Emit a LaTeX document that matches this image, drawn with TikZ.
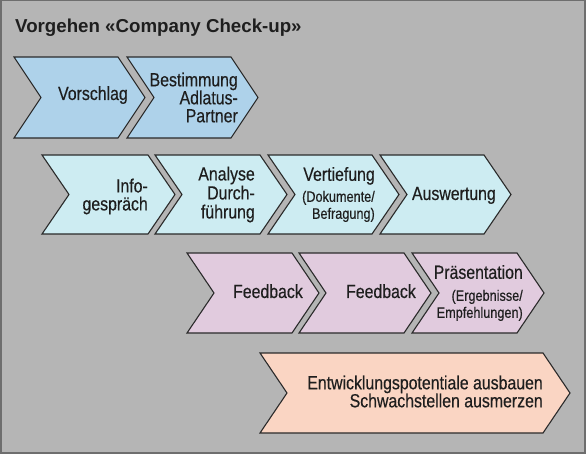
\documentclass[tikz,border=0pt]{standalone}
\usepackage{fontspec}
\setmainfont{Liberation Sans}
\newfontfamily\condf[FakeStretch=0.835, FakeBold=0.4]{Liberation Sans}
\newfontfamily\titlef{Liberation Sans}
\definecolor{bgc}{HTML}{B5B5B5}
\definecolor{framec}{HTML}{6E6E6E}
\definecolor{edgec}{HTML}{2A2A2A}
\definecolor{txtc}{HTML}{1E1E1E}
\definecolor{rowA}{HTML}{AED2EA}
\definecolor{rowB}{HTML}{CDECF2}
\definecolor{rowC}{HTML}{E1CBDE}
\definecolor{rowD}{HTML}{FAD5C3}
\newcommand{\chd}{27}
\newcommand{\chev}[5]{%
  \draw[chevstyle, fill=#1] (#2,#4) -- (#3,#4) -- ({#3+\chd},{(#4+#5)/2}) -- (#3,#5) -- (#2,#5) -- ({#2+\chd},{(#4+#5)/2}) -- cycle;}
\newcommand{\smallf}{\fontsize{15.2}{17}\selectfont}
\tikzset{
  chevstyle/.style={draw=edgec, line width=1.1pt, line join=miter},
  txt/.style={inner sep=0pt, text=txtc, font=\condf\fontsize{19}{18}\selectfont},
}
\begin{document}
\begin{tikzpicture}[x=1pt, y=-1pt]
\path[use as bounding box, fill=bgc] (0,0) rectangle (586,454);
\draw[framec, line width=1.5pt] (0.75,0.75) rectangle (585,453);
% title
\node[anchor=base west, inner sep=0pt, text=txtc, font=\titlef\bfseries\fontsize{18.7}{20}\selectfont] (title) at (15,33) {Vorgehen «Company Check-up»};
% row 1
\chev{rowA}{14}{118}{57}{138}
\chev{rowA}{127}{231}{57}{138}
% row 2
\chev{rowB}{42}{148}{155}{234}
\chev{rowB}{155}{260}{155}{234}
\chev{rowB}{268}{372}{155}{234}
\chev{rowB}{380}{484}{155}{234}
% row 3
\chev{rowC}{187}{292}{253}{333}
\chev{rowC}{299}{404}{253}{333}
\chev{rowC}{412}{517}{253}{333}
% row 4
\chev{rowD}{260}{543}{353}{433}
% texts
\node[txt, anchor=base east] (vorschlag) at (128,100) {Vorschlag};
\node[txt, align=right, anchor=east] (bestimmung) at (238,97.5) {Bestimmung\\Adlatus-\\Partner};
\node[txt, align=right, anchor=east] (info) at (148,196.5) {Info-\\gespräch};
\node[txt, align=right, anchor=east] (analyse) at (255,194.5) {Analyse\\[1pt]Durch-\\[1pt]führung};
\node[txt, align=right, anchor=east] (vertiefung) at (375,194.5) {Vertiefung\\[3pt]\smallf(Dokumente/\\[-1pt]\smallf Befragung)};
\node[txt, anchor=base east] (auswertung) at (496,200) {Auswertung};
\node[txt, anchor=base east] (feedback1) at (303,298) {Feedback};
\node[txt, anchor=base east] (feedback2) at (416,298) {Feedback};
\node[txt, align=right, anchor=east] (praesentation) at (523,293) {Präsentation\\[4pt]\smallf(Ergebnisse/\\[-1pt]\smallf Empfehlungen)};
\node[txt, align=right, anchor=east] (entwicklung) at (543,391.5) {Entwicklungspotentiale ausbauen\\Schwachstellen ausmerzen};
\end{tikzpicture}
\end{document}
